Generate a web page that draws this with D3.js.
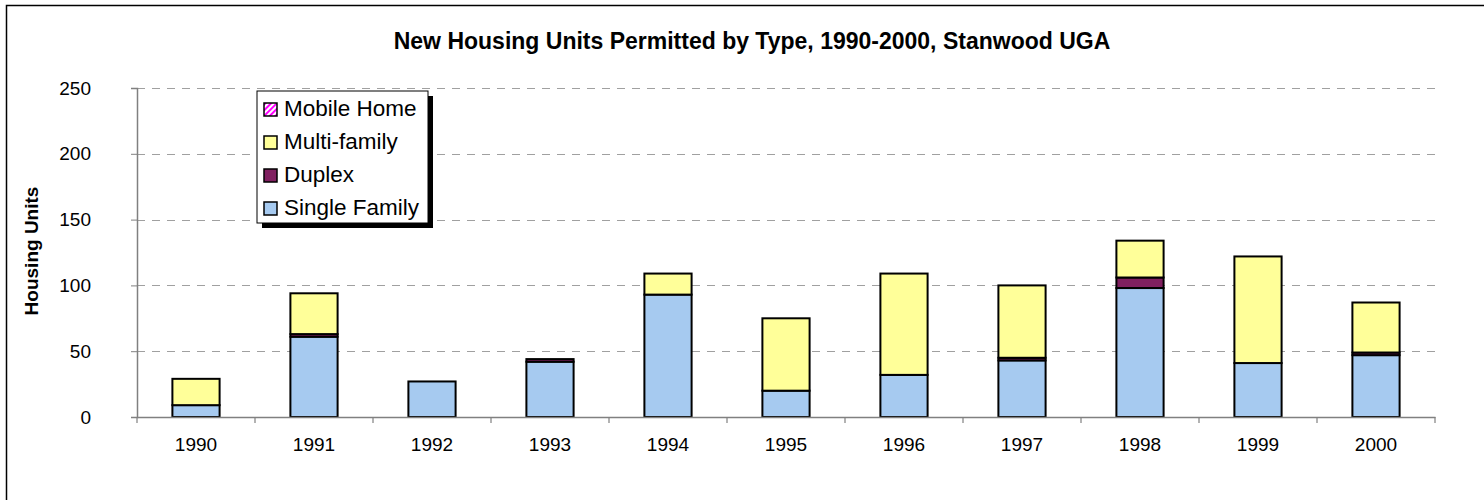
<!DOCTYPE html>
<html>
<head>
<meta charset="utf-8">
<script src="https://cdn.jsdelivr.net/npm/d3@7"></script>
<style>
  body { margin: 0; background: #fff; }
  text { font-family: "Liberation Sans", Arial, sans-serif; }
</style>
</head>
<body>
<svg id="svg" width="1484" height="500"></svg>
<script>
// New housing units permitted by type, Stanwood UGA
let years = ["1990", "1991", "1992", "1993", "1994", "1995", "1996", "1997", "1998", "1999", "2000"];
let singleFamily = [9, 61, 27, 42, 93, 20, 32, 43, 98, 41, 47];
let duplex = [0, 2, 0, 2, 0, 0, 0, 2, 8, 0, 2];
let multiFamily = [20, 31, 0, 0, 16, 55, 77, 55, 28, 81, 38];
let mobileHome = [0, 0, 0, 0, 0, 0, 0, 0, 0, 0, 0];
let seriesNames = ["Single Family", "Duplex", "Multi-family", "Mobile Home"];
let yTicks = [0, 50, 100, 150, 200, 250];

let svg = d3.select("#svg");
let width = +svg.attr("width");
let height = +svg.attr("height");

let margin = { left: 137, right: 1435, top: 88, bottom: 417 };

let colors = {
  "Single Family": "#a6caf0",
  "Duplex": "#802060",
  "Multi-family": "#ffff99",
  "Mobile Home": "url(#mobile)",
};

// stripe pattern for mobile homes
let defs = svg.append("defs");
let pat = defs
  .append("pattern")
  .attr("id", "mobile")
  .attr("width", 4)
  .attr("height", 4)
  .attr("patternUnits", "userSpaceOnUse")
  .attr("patternTransform", "rotate(45)");
pat.append("rect").attr("width", 4).attr("height", 4).attr("fill", "#fff");
pat.append("rect").attr("width", 2).attr("height", 4).attr("fill", "#ff00ff");

// outer frame
svg
  .append("rect")
  .attr("x", 6.5)
  .attr("y", 5.5)
  .attr("width", width + 10)
  .attr("height", height + 10)
  .style("fill", "none")
  .style("stroke", "#000")
  .style("stroke-width", 1.5);

let table = years.map((y, i) => ({
  year: y,
  "Single Family": singleFamily[i],
  "Duplex": duplex[i],
  "Multi-family": multiFamily[i],
  "Mobile Home": mobileHome[i],
}));

let stack = d3.stack().keys(seriesNames)(table);

let x = d3
  .scaleBand()
  .domain(years)
  .range([margin.left, margin.right])
  .paddingInner(0.6)
  .paddingOuter(0.3);

let y = d3.scaleLinear().domain([0, 250]).range([margin.bottom, margin.top]);

// grid lines
svg
  .selectAll("line.grid")
  .data(yTicks.filter((d) => d > 0))
  .enter()
  .append("line")
  .attr("class", "grid")
  .attr("x1", margin.left)
  .attr("x2", margin.right)
  .attr("y1", (d) => Math.round(y(d)) + 0.5)
  .attr("y2", (d) => Math.round(y(d)) + 0.5)
  .style("stroke", "#a0a0a0")
  .style("stroke-width", 1.2)
  .style("stroke-dasharray", "8,7");

// bars
svg
  .selectAll("g.layer")
  .data(stack)
  .enter()
  .append("g")
  .attr("class", "layer")
  .style("fill", (d) => colors[d.key])
  .selectAll("rect")
  .data((d) => d.filter((p) => p[1] - p[0] > 0))
  .enter()
  .append("rect")
  .attr("x", (d) => x(d.data.year))
  .attr("y", (d) => y(d[1]))
  .attr("width", x.bandwidth())
  .attr("height", (d) => y(d[0]) - y(d[1]))
  .style("stroke", "#000")
  .style("stroke-width", 2);

// axes
let band = (margin.right - margin.left) / years.length;
let yAxis = svg
  .append("g")
  .attr("transform", `translate(${margin.left},0)`)
  .call(d3.axisLeft(y).tickValues(yTicks).tickSize(6).tickPadding(40));
let xAxis = svg
  .append("g")
  .attr("transform", `translate(0,${margin.bottom})`)
  .call(d3.axisBottom(x).tickSize(0).tickPadding(21));

[yAxis, xAxis].forEach((g) => {
  g.select(".domain").style("stroke", "#808080").style("stroke-width", 1.5);
  g.selectAll(".tick line").style("stroke", "#808080");
  g.selectAll("text").style("font-size", "19px").style("fill", "#000").style("font-family", "Liberation Sans, Arial, sans-serif");
});
yAxis.selectAll("text").attr("text-anchor", "end");

// category boundary ticks on x axis
svg
  .selectAll("line.xtick")
  .data(d3.range(years.length + 1))
  .enter()
  .append("line")
  .attr("class", "xtick")
  .attr("x1", (d) => margin.left + d * band)
  .attr("x2", (d) => margin.left + d * band)
  .attr("y1", margin.bottom)
  .attr("y2", margin.bottom + 6)
  .style("stroke", "#808080")
  .style("stroke-width", 1.2);

// title
svg
  .append("text")
  .attr("x", 752)
  .attr("y", 49)
  .attr("text-anchor", "middle")
  .style("font-size", "23px")
  .style("font-weight", "bold")
  .text("New Housing Units Permitted by Type, 1990-2000, Stanwood UGA");

// y axis label
svg
  .append("text")
  .attr("transform", "translate(38,251) rotate(-90)")
  .attr("text-anchor", "middle")
  .style("font-size", "19px")
  .style("font-weight", "bold")
  .text("Housing Units");

// legend
let legend = svg.append("g").attr("transform", "translate(257,91)");
legend.append("rect").attr("x", 5).attr("y", 5).attr("width", 171).attr("height", 132).style("fill", "#000");
legend
  .append("rect")
  .attr("width", 171)
  .attr("height", 132)
  .style("fill", "#fff")
  .style("stroke", "#000")
  .style("stroke-width", 1);

let legendItems = seriesNames.slice().reverse();
let rows = legend
  .selectAll("g.item")
  .data(legendItems)
  .enter()
  .append("g")
  .attr("class", "item")
  .attr("transform", (d, i) => `translate(0,${25 + i * 33})`);
rows
  .append("rect")
  .attr("x", 7)
  .attr("y", -13)
  .attr("width", 13)
  .attr("height", 13)
  .style("fill", (d) => colors[d])
  .style("stroke", "#000")
  .style("stroke-width", 1.5);
rows
  .append("text")
  .attr("x", 27)
  .attr("y", 0)
  .style("font-size", "22.5px")
  .text((d) => d);
</script>
</body>
</html>
